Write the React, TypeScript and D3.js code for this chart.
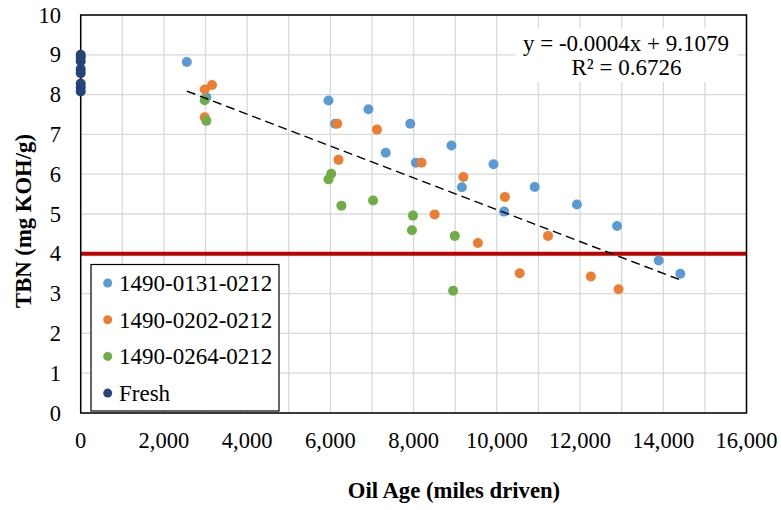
import React from "react";
import * as d3 from "d3";

const seriesNames = ["1490-0131-0212", "1490-0202-0212", "1490-0264-0212", "Fresh"];
const seriesColors = ["#5b9bd5", "#ed7d31", "#70ad47", "#264478"];

const blueX = [2550, 3020, 5955, 6115, 6915, 7920, 7330, 8055, 8910, 9160, 9920, 10175, 10910, 11925, 12890, 13890, 14410];
const blueY = [8.82, 7.93, 7.85, 7.27, 7.63, 7.27, 6.54, 6.29, 6.72, 5.67, 6.25, 5.06, 5.68, 5.24, 4.70, 3.83, 3.50];

const orangeX = [2980, 3155, 2980, 6165, 7120, 6195, 8190, 9195, 10195, 8505, 9545, 10550, 11230, 12260, 12925];
const orangeY = [8.13, 8.24, 7.43, 7.27, 7.12, 6.36, 6.29, 5.93, 5.43, 4.99, 4.27, 3.51, 4.45, 3.43, 3.11];

const greenX = [2980, 3020, 6020, 5955, 6265, 7025, 7985, 7960, 8990, 8950];
const greenY = [7.86, 7.34, 6.01, 5.87, 5.21, 5.34, 4.96, 4.59, 4.45, 3.07];

const freshX = [0, 0, 0, 0, 0, 0, 0, 0];
const freshY = [9.0, 8.93, 8.84, 8.64, 8.54, 8.28, 8.18, 8.08];

const xTicks = [0, 2000, 4000, 6000, 8000, 10000, 12000, 14000, 16000];
const xGrid = d3.range(0, 16001, 1000);
const yTicks = [0, 1, 2, 3, 4, 5, 6, 7, 8, 9, 10];

const limitTBN = 4;
const trendSlope = -0.0004;
const trendIntercept = 9.1079;
const trendText = "y = -0.0004x + 9.1079";
const r2Text = "R² = 0.6726";

const xTitle = "Oil Age (miles driven)";
const yTitle = "TBN (mg KOH/g)";

const FONT = '"Liberation Serif", Tinos, "Times New Roman", "DejaVu Serif", serif';

export default function App() {
  const W = 781, H = 510;
  const left = 80.7, right = 746.5, top = 15, bottom = 413;
  const x = d3.scaleLinear().domain([0, 16000]).range([left, right]);
  const y = d3.scaleLinear().domain([0, 10]).range([bottom, top]);
  const ts: React.CSSProperties = { fontFamily: FONT };

  const series = [
    { xs: blueX, ys: blueY },
    { xs: orangeX, ys: orangeY },
    { xs: greenX, ys: greenY },
    { xs: freshX, ys: freshY },
  ];

  const allX = [...blueX, ...orangeX, ...greenX];
  const tx0 = d3.min(allX) as number;
  const tx1 = d3.max(allX) as number;
  const trend = d3.line<number>().x((d) => x(d)).y((d) => y(trendSlope * d + trendIntercept));

  return (
    <svg width={W} height={H} style={{ position: "absolute", left: 0, top: 0, background: "#fff", fontFamily: FONT }}>
      <rect x={0} y={0} width={W} height={H} fill="#fff" />
      {xGrid.map((t) => (
        <line key={"xg" + t} x1={x(t)} x2={x(t)} y1={top} y2={bottom} stroke="#d9d9d9" strokeWidth={1.3} />
      ))}
      {yTicks.map((t) => (
        <line key={"yg" + t} x1={left} x2={right} y1={y(t)} y2={y(t)} stroke="#d9d9d9" strokeWidth={1.3} />
      ))}
      <line x1={left} x2={right} y1={y(limitTBN)} y2={y(limitTBN)} stroke="#c00000" strokeWidth={4} />
      <rect x={left} y={top} width={right - left} height={bottom - top} fill="none" stroke="#000" strokeWidth={1.5} />
      {series.map((s, si) =>
        s.xs.map((xv, i) => (
          <circle key={si + "-" + i} cx={x(xv)} cy={y(s.ys[i])} r={5} fill={seriesColors[si]} />
        ))
      )}
      <path d={trend([tx0, tx1]) || ""} stroke="#000" strokeWidth={1.5} strokeDasharray="9,5" fill="none" />
      <rect x={516} y={28} width={222} height={54} fill="#fff" />
      <text style={ts} x={626} y={51} textAnchor="middle" fontSize={23} fill="#000">{trendText}</text>
      <text style={ts} x={626.5} y={75} textAnchor="middle" fontSize={23} fill="#000">{r2Text}</text>
      {yTicks.map((t) => (
        <text style={ts} key={"yt" + t} x={61} y={y(t)} dy="0.34em" textAnchor="end" fontSize={22.5} fill="#000">{t}</text>
      ))}
      {xTicks.map((t) => (
        <text style={ts} key={"xt" + t} x={x(t)} y={448} textAnchor="middle" fontSize={22.5} fill="#000">{d3.format(",")(t)}</text>
      ))}
      <text style={ts} x={454} y={498} textAnchor="middle" fontSize={22.7} fontWeight="bold" fill="#000">{xTitle}</text>
      <text style={ts} transform={`translate(31,221) rotate(-90)`} textAnchor="middle" fontSize={22.7} fontWeight="bold" fill="#000">{yTitle}</text>
      <rect x={91} y={264.5} width={188} height={146.5} fill="#fff" stroke="#000" strokeWidth={1.2} />
      {seriesNames.map((n, i) => (
        <g key={n} transform={`translate(0,${283 + i * 36.7})`}>
          <circle cx={107.7} cy={0} r={4.5} fill={seriesColors[i]} />
          <text style={ts} x={119} y={0} dy="0.34em" fontSize={23} fill="#000">{n}</text>
        </g>
      ))}
    </svg>
  );
}
